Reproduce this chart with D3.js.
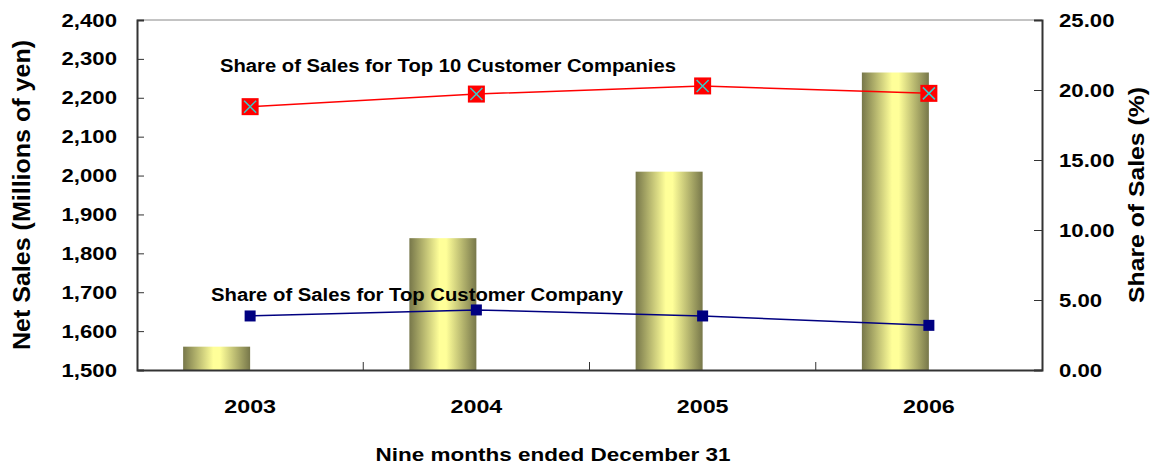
<!DOCTYPE html>
<html><head><meta charset="utf-8">
<script src="https://cdn.jsdelivr.net/npm/d3@7"></script>
<style>body{margin:0;background:#fff}svg{display:block}text{font-family:"Liberation Sans",Arial,sans-serif;font-weight:bold;fill:#000}</style>
</head><body>
<script>
const years = ["2003","2004","2005","2006"];
const netSales = [1560, 1839, 2010, 2265];
const top10Share = [18.81, 19.71, 20.29, 19.76];
const topShare = [3.86, 4.29, 3.86, 3.19];
const leftTicks = [1500,1600,1700,1800,1900,2000,2100,2200,2300,2400];
const rightTicks = [0,5,10,15,20,25];

const W=1154,H=465, L=137,R=1042,T=20,B=370;
const svg=d3.select("body").append("svg").attr("width",W).attr("height",H);
const defs=svg.append("defs");
const g=defs.append("linearGradient").attr("id","bar").attr("x1","0").attr("x2","1").attr("y1","0").attr("y2","0");
g.append("stop").attr("offset","0").attr("stop-color","#77774a");
g.append("stop").attr("offset","0.45").attr("stop-color","#ffff99");
g.append("stop").attr("offset","0.55").attr("stop-color","#ffff99");
g.append("stop").attr("offset","1").attr("stop-color","#77774a");

function stretch(sel, k){
  sel.each(function(){ const w=this.getComputedTextLength(); d3.select(this).attr("textLength",w*k).attr("lengthAdjust","spacingAndGlyphs"); });
}

const x=d3.scaleBand().domain(years).range([L,R]).padding(0);
const yL=d3.scaleLinear().domain([1500,2400]).range([B,T]);
const yR=d3.scaleLinear().domain([0,25]).range([B,T]);
const cx=d=>x(d)+x.bandwidth()/2;
const bw=67;

// plot border top
svg.append("line").attr("x1",L).attr("x2",R).attr("y1",T).attr("y2",T).attr("stroke","#888").attr("stroke-width",1);

// bars
svg.selectAll("rect.bar").data(years).join("rect").attr("class","bar")
  .attr("x",d=>cx(d)-bw).attr("width",bw)
  .attr("y",(d,i)=>yL(netSales[i])).attr("height",(d,i)=>B-yL(netSales[i]))
  .attr("fill","url(#bar)");

const FS=18.8;
// left axis
const axL=svg.append("g").attr("transform",`translate(${L},0)`)
  .call(d3.axisLeft(yL).tickValues(leftTicks).tickSize(-7).tickPadding(20).tickFormat(d3.format(",")));
axL.select(".domain").attr("stroke","#333").attr("stroke-width",2);
axL.selectAll(".tick line").attr("stroke","#333");
axL.selectAll(".tick text").attr("font-size",FS).attr("font-family","Liberation Sans").attr("font-weight","bold").attr("fill","#000");
stretch(axL.selectAll(".tick text"),1.18);

// right axis
const axR=svg.append("g").attr("transform",`translate(${R},0)`)
  .call(d3.axisRight(yR).tickValues(rightTicks).tickSize(-8).tickPadding(17).tickFormat(d3.format(".2f")));
axR.select(".domain").attr("stroke","#333").attr("stroke-width",2);
axR.selectAll(".tick line").attr("stroke","#333");
axR.selectAll(".tick text").attr("font-size",FS).attr("font-family","Liberation Sans").attr("font-weight","bold").attr("fill","#000");
stretch(axR.selectAll(".tick text"),1.18);

// bottom axis
const axB=svg.append("g").attr("transform",`translate(0,${B})`)
  .call(d3.axisBottom(x).tickSize(0));
axB.select(".domain").attr("stroke","#333").attr("stroke-width",2);
axB.selectAll(".tick text").attr("y",43.3).attr("dy",0).attr("font-size",FS).attr("font-family","Liberation Sans").attr("font-weight","bold").attr("fill","#000");
stretch(axB.selectAll(".tick text"),1.24);
// category dividers (inward ticks)
svg.selectAll("line.div").data(years.slice(1)).join("line").attr("class","div")
  .attr("x1",d=>x(d)).attr("x2",d=>x(d)).attr("y1",B).attr("y2",B-8).attr("stroke","#333");

// lines
const lineR=d3.line().x((d,i)=>cx(years[i])).y(d=>yR(d));
svg.append("path").attr("d",lineR(top10Share)).attr("fill","none").attr("stroke","#ff0000").attr("stroke-width",1.5);
svg.append("path").attr("d",lineR(topShare)).attr("fill","none").attr("stroke","#000080").attr("stroke-width",1.5);

// red markers
const rm=svg.selectAll("g.rm").data(top10Share).join("g").attr("class","rm")
  .attr("transform",(d,i)=>`translate(${cx(years[i])},${yR(d)})`);
rm.append("rect").attr("x",-8.5).attr("y",-8.5).attr("width",17).attr("height",17).attr("fill","#ff0000");
rm.append("path").attr("d","M-6,-6L6,6M-6,6L6,-6").attr("stroke","#33cccc").attr("stroke-width",1.5);

// blue markers
svg.selectAll("rect.bm").data(topShare).join("rect").attr("class","bm")
  .attr("x",(d,i)=>cx(years[i])-5.5).attr("y",d=>yR(d)-5.5).attr("width",11).attr("height",11).attr("fill","#000080");

// annotations
svg.append("text").attr("x",220).attr("y",71.5).attr("font-size",FS).attr("textLength",456).attr("lengthAdjust","spacingAndGlyphs").text("Share of Sales for Top 10 Customer Companies");
svg.append("text").attr("x",211).attr("y",301).attr("font-size",FS).attr("textLength",412).attr("lengthAdjust","spacingAndGlyphs").text("Share of Sales for Top Customer Company");

// axis titles
svg.append("text").attr("transform",`translate(30,${(T+B)/2}) rotate(-90)`).attr("text-anchor","middle").attr("font-size",24.5).attr("textLength",310).attr("lengthAdjust","spacingAndGlyphs").text("Net Sales (Millions of yen)");
svg.append("text").attr("transform",`translate(1143.5,${(T+B)/2}) rotate(-90)`).attr("text-anchor","middle").attr("font-size",22).attr("textLength",216).attr("lengthAdjust","spacingAndGlyphs").text("Share of Sales (%)");
svg.append("text").attr("x",553).attr("y",460.5).attr("text-anchor","middle").attr("font-size",FS).attr("textLength",355).attr("lengthAdjust","spacingAndGlyphs").text("Nine months ended December 31");
</script>
</body></html>
